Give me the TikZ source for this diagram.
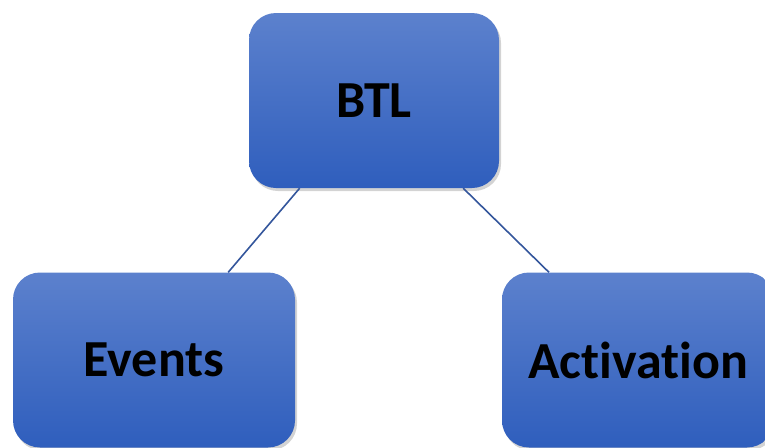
\documentclass[tikz,border=0pt]{standalone}
\usepackage{fontspec}
\setmainfont{Carlito}[Ligatures=NoCommon]
\usetikzlibrary{shadows}
\definecolor{boxtop}{RGB}{92,129,205}
\definecolor{boxbot}{RGB}{47,94,189}
\definecolor{linkcol}{RGB}{52,86,156}
\begin{document}
\begin{tikzpicture}[x=1pt,y=1pt]
        \useasboundingbox (0,0) rectangle (765,-447);

        \begin{scope}[every node/.style={rectangle,rounded corners=27pt,
            top color=boxtop,bottom color=boxbot,draw=none,inner sep=0pt,
            minimum height=175pt,
            drop shadow={opacity=0.35,shadow xshift=2pt,shadow yshift=-3pt},
            font=\fontsize{52}{60}\selectfont\bfseries}]
          \node[minimum width=250pt] (btl)        at (374,-100.5) {BTL};
          \node[minimum width=282pt] (events)     at (154,-360)   {Events};
          \node[minimum width=272pt] (activation) at (638,-360)   {Activation};
        \end{scope}

        \begin{scope}[every edge/.style={draw=linkcol,line width=1.6pt}]
          \path (btl) edge (events);
          \path (btl) edge (activation);
        \end{scope}

      \end{tikzpicture}
\end{document}
